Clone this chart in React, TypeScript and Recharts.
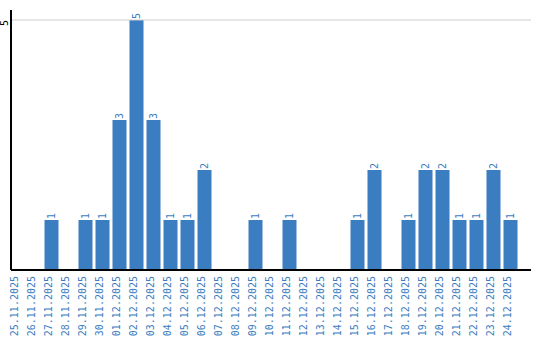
import { BarChart, Bar, XAxis, YAxis, ReferenceLine, LabelList } from "recharts";

const days = [
  "25.11.2025", "26.11.2025", "27.11.2025", "28.11.2025", "29.11.2025",
  "30.11.2025", "01.12.2025", "02.12.2025", "03.12.2025", "04.12.2025",
  "05.12.2025", "06.12.2025", "07.12.2025", "08.12.2025", "09.12.2025",
  "10.12.2025", "11.12.2025", "12.12.2025", "13.12.2025", "14.12.2025",
  "15.12.2025", "16.12.2025", "17.12.2025", "18.12.2025", "19.12.2025",
  "20.12.2025", "21.12.2025", "22.12.2025", "23.12.2025", "24.12.2025"
];
const counts = [0, 0, 1, 0, 1, 1, 3, 5, 3, 1, 1, 2, 0, 0, 1, 0, 1, 0, 0, 0, 1, 2, 0, 1, 2, 2, 1, 1, 2, 1];
const yTicks = [5];

const data = days.map((day, i) => ({ day, count: counts[i] }));

const BLUE = "#3b7dc1";
const FONT = "'DejaVu Sans Mono', monospace";

function DayTick({ x, y, payload }: any) {
  const ty = y - 2;
  return (
    <text
      x={x}
      y={ty}
      transform={`rotate(-90, ${x}, ${ty})`}
      textAnchor="end"
      fontSize={10}
      fontFamily={FONT}
      fill={BLUE}
    >
      {payload.value}
    </text>
  );
}

function CountTick({ y, payload }: any) {
  return (
    <text
      x={8}
      y={y}
      transform={`rotate(-90, 8, ${y})`}
      textAnchor="end"
      fontSize={10}
      fontFamily={FONT}
      fill="#000"
    >
      {payload.value}
    </text>
  );
}

function BarValue({ x, y, width, value }: any) {
  if (!value) return null;
  const lx = x + width / 2 + 3.5;
  const ly = y - 1;
  return (
    <text
      x={lx}
      y={ly}
      transform={`rotate(-90, ${lx}, ${ly})`}
      textAnchor="start"
      fontSize={10}
      fontFamily={FONT}
      fill={BLUE}
    >
      {value}
    </text>
  );
}

export default function App() {
  return (
    <div style={{ width: 540, height: 340, background: "#fff" }}>
      <style>{"body{margin:0}"}</style>
      <BarChart
        width={540}
        height={340}
        data={data}
        margin={{ top: 10, right: 9, left: 0, bottom: 0 }}
        barCategoryGap={1.5}
      >
        {yTicks.map((t) => (
          <ReferenceLine key={t} y={t} stroke="#cccccc" />
        ))}
        <XAxis
          dataKey="day"
          interval={0}
          height={70}
          tickLine={false}
          axisLine={{ stroke: "#000", strokeWidth: 2 }}
          padding={{ left: -2, right: 12 }}
          tick={<DayTick />}
        />
        <YAxis
          width={11}
          domain={[0, 5.2]}
          ticks={yTicks}
          tickLine={false}
          axisLine={{ stroke: "#000", strokeWidth: 2 }}
          tick={<CountTick />}
        />
        <Bar dataKey="count" fill={BLUE} isAnimationActive={false}>
          <LabelList dataKey="count" content={<BarValue />} />
        </Bar>
      </BarChart>
    </div>
  );
}
